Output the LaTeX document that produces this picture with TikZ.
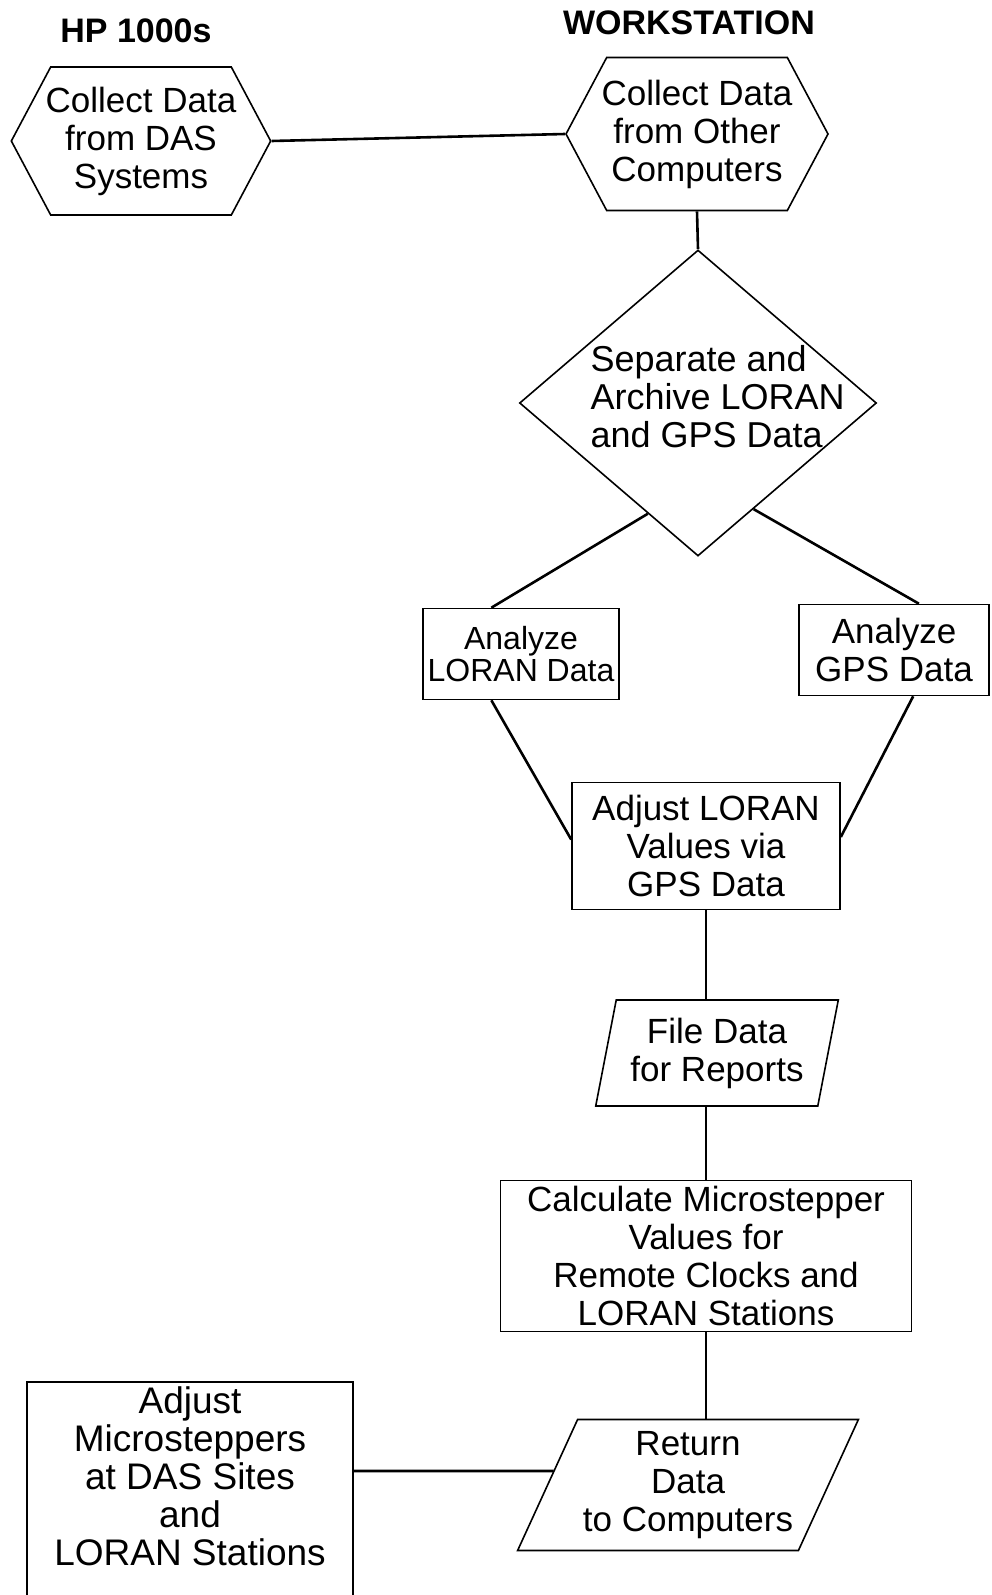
\documentclass[tikz,border=0pt]{standalone}
\usepackage{fontspec}
\setmainfont{Liberation Sans}
\usetikzlibrary{positioning, calc, shapes.geometric, shapes.symbols}

\begin{document}
\begin{tikzpicture}[
				x=1pt, y=-1pt,
				every node/.style={align=center, font=\fontsize{35}{38}\selectfont},
				heading/.style={font=\fontsize{34}{36}\selectfont\bfseries},
				box/.style={draw, rectangle, line width=1.6pt, inner sep=0pt},
				hexa/.style={draw, signal, signal to=west and east, signal pointer angle=124, line width=1.6pt, inner ysep=0pt, inner xsep=-5pt},
				para/.style={draw, trapezium, trapezium stretches=true, line width=1.6pt, inner sep=0pt},
				link/.style={line width=2.6pt}]

			\useasboundingbox (0,0) rectangle (991,1595);

			\node[heading] (hp_title) at (136,31) {HP 1000s};
			\node[heading] (ws_title) at (689,23) {WORKSTATION};

			\node[hexa, minimum width=258pt, minimum height=148pt] (collect_das) at (141,141) {Collect Data\\from DAS\\Systems};
			\node[hexa, minimum width=252pt, minimum height=153pt] (collect_other) at (697,134) {Collect Data\\from Other\\Computers};
			\node[draw, diamond, line width=1.6pt, minimum width=357pt, minimum height=306pt, inner sep=0pt] (separate) at (698,403) {};
			\node[font=\fontsize{36}{38}\selectfont, align=left, anchor=west] (separate_text) at (587,397) {Separate and\\Archive LORAN\\and GPS Data};
			\node[box, minimum width=196pt, minimum height=91pt, font=\fontsize{32}{32}\selectfont] (analyze_loran) at (521,654) {Analyze\\LORAN Data};
			\node[box, minimum width=190pt, minimum height=91pt] (analyze_gps) at (894,650) {Analyze\\GPS Data};
			\node[box, minimum width=268pt, minimum height=127pt] (adjust_loran) at (706,846) {Adjust LORAN\\Values via\\GPS Data};
			\node[para, trapezium left angle=76, trapezium right angle=104, minimum width=243pt, minimum height=106pt] (file_data) at (717,1053) {File Data\\for Reports};
			\node[box, minimum width=411pt, minimum height=151pt] (calc_values) at (706,1256) {Calculate Microstepper\\Values for\\Remote Clocks and\\LORAN Stations};
			\node[para, trapezium left angle=62, trapezium right angle=118, minimum width=341pt, minimum height=131pt] (return_data) at (688,1485) {Return\\Data\\to Computers};
			\node[box, anchor=north, minimum width=326pt, inner ysep=5pt, text depth=70pt, font=\fontsize{37}{38}\selectfont] (adjust_micro) at (190,1381) {Adjust\\Microsteppers\\at DAS Sites\\and\\LORAN Stations};

			\draw[link] (collect_das.east) -- (collect_other.west);
			\draw[link] (collect_other.south) -- (separate.north);

			\draw[link] ($(separate.west)!0.72!(separate.south)$) -- ($(analyze_loran.north west)!0.35!(analyze_loran.north east)$);
			\draw[link] ($(separate.east)!0.69!(separate.south)$) -- ($(analyze_gps.north west)!0.63!(analyze_gps.north east)$);

			\draw[link] ($(analyze_loran.south west)!0.35!(analyze_loran.south east)$) -- ($(adjust_loran.north west)!0.45!(adjust_loran.south west)$);
			\draw[link] ($(analyze_gps.south west)!0.6!(analyze_gps.south east)$) -- ($(adjust_loran.north east)!0.43!(adjust_loran.south east)$);

			\draw[link] (adjust_loran.south) -- (adjust_loran.south |- file_data.north);
			\draw[link] (file_data.south -| calc_values.north) -- (calc_values.north);
			\draw[link] (calc_values.south) -- (calc_values.south |- return_data.north);
			\draw[link] (adjust_micro.east |- 0,1471) -- ($(return_data.west)+(7,-14)$);

		\end{tikzpicture}
\end{document}
